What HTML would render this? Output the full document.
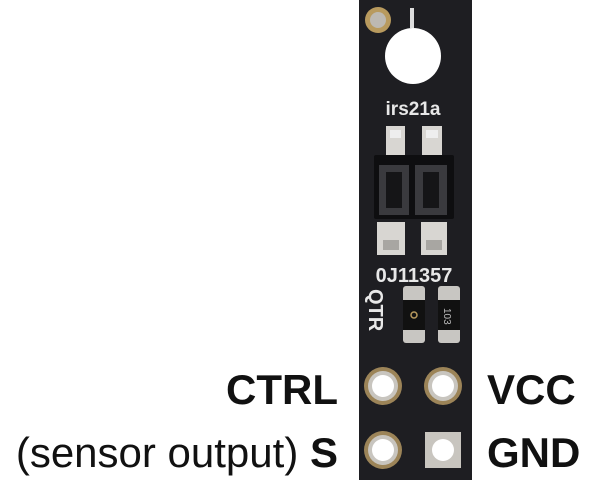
<!DOCTYPE html>
<html><head><style>
body{margin:0;width:600px;height:480px;background:#fff;position:relative;overflow:hidden;font-family:"Liberation Sans",Arial,sans-serif}
.a{position:absolute}
.lbl{position:absolute;font-weight:bold;font-size:42px;color:#111;line-height:1}
</style></head><body>
<svg class="a" style="left:0;top:0" width="600" height="480">
<rect x="359" y="0" width="113" height="480" fill="#1e1e22"/>
<circle cx="378" cy="20" r="13" fill="#b89a5e"/>
<circle cx="378" cy="20" r="8" fill="#bdb9b2"/>
<rect x="410" y="8" width="4" height="20" fill="#ddd"/>
<circle cx="413" cy="56" r="28" fill="#fff"/>
<text x="413" y="115" font-family="Liberation Sans" font-weight="bold" font-size="19" fill="#e8e8e8" text-anchor="middle">irs21a</text>
<rect x="386" y="126" width="19" height="30" fill="#d8d6d2"/><rect x="390" y="130" width="11" height="8" fill="#eee"/>
<rect x="422" y="126" width="20" height="30" fill="#d8d6d2"/><rect x="426" y="130" width="12" height="8" fill="#eee"/>
<rect x="374" y="155" width="80" height="64" fill="#0e0e10" rx="2"/>
<rect x="379" y="165" width="30" height="50" fill="#3a3a3e"/>
<rect x="415" y="165" width="32" height="50" fill="#3a3a3e"/>
<rect x="386" y="172" width="16" height="36" fill="#151517"/>
<rect x="423" y="172" width="16" height="36" fill="#151517"/>
<rect x="377" y="222" width="28" height="33" fill="#d8d6d2"/><rect x="383" y="240" width="16" height="10" fill="#a8a6a2"/>
<rect x="421" y="222" width="26" height="33" fill="#d8d6d2"/><rect x="426" y="240" width="16" height="10" fill="#a8a6a2"/>
<text x="414" y="282" font-family="Liberation Sans" font-weight="bold" font-size="20" fill="#e8e8e8" text-anchor="middle">0J11357</text>
<text transform="translate(369,289) rotate(90)" font-family="Liberation Sans" font-weight="bold" font-size="20" fill="#e8e8e8">QTR</text>
<rect x="403" y="286" width="22" height="57" fill="#c8c6c2" rx="3"/><rect x="403" y="300" width="22" height="30" fill="#111"/><circle cx="414" cy="315" r="3" fill="none" stroke="#b89a5e" stroke-width="1.5"/>
<rect x="438" y="286" width="22" height="57" fill="#c8c6c2" rx="3"/><rect x="438" y="300" width="22" height="30" fill="#111"/>
<text transform="translate(444,308) rotate(90)" font-family="Liberation Sans" font-size="10" fill="#bbb">103</text>
<circle cx="383" cy="386" r="19" fill="#9c8458"/><circle cx="383" cy="386" r="15" fill="#c8c5bf"/><circle cx="383" cy="386" r="11" fill="#fff"/>
<circle cx="443" cy="386" r="19" fill="#9c8458"/><circle cx="443" cy="386" r="15" fill="#c8c5bf"/><circle cx="443" cy="386" r="11" fill="#fff"/>
<circle cx="383" cy="450" r="19" fill="#9c8458"/><circle cx="383" cy="450" r="15" fill="#c8c5bf"/><circle cx="383" cy="450" r="11" fill="#fff"/>
<rect x="425" y="432" width="36" height="36" fill="#c8c5bf"/><circle cx="443" cy="450" r="11" fill="#fff"/>
</svg>
<div class="lbl" style="right:262px;top:369px">CTRL</div>
<div class="lbl" style="left:487px;top:369px">VCC</div>
<div class="lbl" style="right:262px;top:432px"><span style="font-weight:normal">(sensor output)</span> S</div>
<div class="lbl" style="left:487px;top:432px">GND</div>
</body></html>
